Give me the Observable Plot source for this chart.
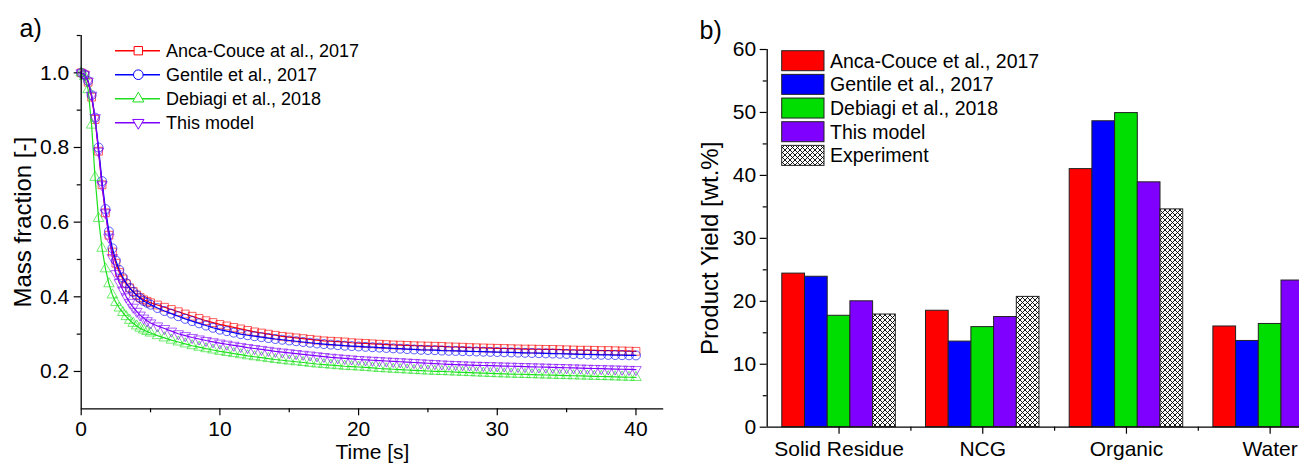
<!DOCTYPE html>
<html><head><meta charset="utf-8">
<script src="https://cdn.jsdelivr.net/npm/d3@7"></script>
<script src="https://cdn.jsdelivr.net/npm/@observablehq/plot@0.6"></script>
<style>
html,body{margin:0;padding:0;background:#fff;overflow:hidden;width:1299px;height:463px;}
#wrap{position:relative;width:1400px;height:463px;}
#wrap > svg{position:absolute;top:0;}
</style></head><body><div id="wrap"></div><script>
// ---------- Panel a data ----------
const times = [0,0.25,0.5,0.75,1,1.25,1.5,1.75,2,2.25,2.5,2.75,3,3.25,3.5,3.75,4,4.25,4.5,4.75,5,
 5.5,6,6.5,7,7.5,8,8.5,9,9.5,10,
 10.5,11,11.5,12,12.5,13,13.5,14,14.5,15,
 15.5,16,16.5,17,17.5,18,18.5,19,19.5,20,
 20.5,21,21.5,22,22.5,23,23.5,24,24.5,25,
 25.5,26,26.5,27,27.5,28,28.5,29,29.5,30,
 30.5,31,31.5,32,32.5,33,33.5,34,34.5,35,
 35.5,36,36.5,37,37.5,38,38.5,39,39.5,40];
const ancaCouce = [1.0,0.995,0.975,0.935,0.875,0.79,0.70,0.625,0.565,0.52,0.49,0.465,0.448,0.435,0.424,0.414,0.405,0.398,0.392,0.388,0.384,
 0.378,0.372,0.366,0.360,0.354,0.348,0.342,0.336,0.331,0.326,
 0.322,0.318,0.314,0.310,0.306,0.303,0.300,0.297,0.294,0.292,
 0.290,0.288,0.286,0.284,0.282,0.281,0.280,0.279,0.277,0.276,
 0.275,0.274,0.273,0.272,0.271,0.2705,0.270,0.269,0.2685,0.268,
 0.2675,0.267,0.266,0.2655,0.265,0.264,0.2635,0.263,0.2625,0.262,
 0.2615,0.261,0.2605,0.260,0.260,0.2595,0.259,0.259,0.2585,0.258,
 0.2575,0.257,0.257,0.2565,0.256,0.256,0.2555,0.255,0.2545,0.254];
const gentile = [1.0,0.995,0.978,0.94,0.88,0.80,0.71,0.635,0.575,0.53,0.497,0.472,0.452,0.436,0.423,0.413,0.404,0.396,0.389,0.384,0.379,
 0.370,0.362,0.355,0.348,0.341,0.335,0.329,0.323,0.317,0.312,
 0.308,0.304,0.300,0.297,0.2945,0.292,0.2895,0.287,0.285,0.283,
 0.281,0.279,0.277,0.275,0.2735,0.272,0.2705,0.269,0.268,0.267,
 0.266,0.265,0.264,0.263,0.262,0.261,0.260,0.259,0.258,0.2575,
 0.257,0.256,0.2555,0.255,0.2545,0.254,0.2535,0.253,0.2525,0.252,
 0.2515,0.251,0.2505,0.250,0.2495,0.249,0.2485,0.248,0.2475,0.247,
 0.2465,0.246,0.2455,0.245,0.2447,0.2444,0.244,0.2437,0.2433,0.243];
const debiagi = [1.0,0.99,0.955,0.86,0.72,0.61,0.53,0.475,0.435,0.405,0.385,0.37,0.358,0.347,0.337,0.329,0.322,0.316,0.311,0.307,0.303,
 0.296,0.290,0.284,0.279,0.274,0.269,0.265,0.261,0.2575,0.254,
 0.251,0.248,0.245,0.242,0.2395,0.237,0.2345,0.232,0.230,0.228,
 0.226,0.224,0.222,0.220,0.2185,0.217,0.2155,0.214,0.213,0.212,
 0.211,0.2095,0.208,0.207,0.206,0.205,0.204,0.203,0.202,0.2012,
 0.2005,0.200,0.1992,0.1985,0.1978,0.197,0.1962,0.1955,0.1948,0.194,
 0.1935,0.193,0.1925,0.192,0.1915,0.191,0.1905,0.190,0.1895,0.189,
 0.1885,0.188,0.1875,0.187,0.1865,0.186,0.1855,0.185,0.1845,0.184];
const thisModel = [1.0,0.995,0.978,0.94,0.88,0.79,0.70,0.625,0.56,0.505,0.462,0.438,0.418,0.40,0.385,0.372,0.361,0.351,0.343,0.336,0.33,
 0.322,0.315,0.308,0.301,0.296,0.291,0.287,0.283,0.2795,0.276,
 0.273,0.270,0.267,0.264,0.2615,0.259,0.2565,0.254,0.252,0.250,
 0.248,0.246,0.244,0.242,0.240,0.238,0.2365,0.235,0.2335,0.232,
 0.231,0.230,0.229,0.228,0.227,0.226,0.225,0.224,0.223,0.222,
 0.221,0.220,0.2192,0.2185,0.2178,0.217,0.2165,0.216,0.2155,0.215,
 0.2145,0.214,0.2135,0.213,0.2125,0.212,0.2115,0.211,0.2105,0.210,
 0.2095,0.209,0.2085,0.208,0.2075,0.207,0.2065,0.206,0.2055,0.205];
const curveNames = ["Anca-Couce at al., 2017","Gentile et al., 2017","Debiagi et al., 2018","This model"];
const xTicksA = [0,10,20,30,40];
const yTicksA = [0.2,0.4,0.6,0.8,1.0];

// ---------- Panel b data ----------
const categories = ["Solid Residue","NCG","Organic","Water"];
const barNames = ["Anca-Couce et al., 2017","Gentile et al., 2017","Debiagi et al., 2018","This model","Experiment"];
const yieldAncaCouce = [24.4,18.5,41.0,16.0];
const yieldGentile = [23.9,13.6,48.6,13.7];
const yieldDebiagi = [17.7,15.9,49.9,16.4];
const yieldThisModel = [20.0,17.5,38.9,23.3];
const yieldExperiment = [17.9,20.7,34.6,22.0];
const yTicksB = [0,10,20,30,40,50,60];

[ancaCouce,gentile,debiagi,thisModel].forEach((a,i)=>{ if(a.length!==times.length) throw new Error("length mismatch series "+i+": "+a.length+" vs "+times.length); });

const FONT = '"Liberation Sans", Arial, Helvetica, sans-serif';
const wrap = document.getElementById("wrap");

// custom downward triangle symbol
const triangleDown = { draw(ctx, size) {
  const y = -Math.sqrt(size / (Math.sqrt(3) * 3)), s3 = Math.sqrt(3);
  ctx.moveTo(0, -2 * y); ctx.lineTo(-s3 * y, y); ctx.lineTo(s3 * y, y); ctx.closePath();
}};

const curveStyles = [
  {values: ancaCouce, color: "#ff0000", symbol: "square", r: 4.4},
  {values: gentile, color: "#0000ff", symbol: "circle", r: 4.5},
  {values: debiagi, color: "#1ee01e", symbol: "triangle", r: 3.9},
  {values: thisModel, color: "#8000ff", symbol: triangleDown, r: 3.9}
];
const curveRows = curveStyles.map((c, k) => times.map((t, i) => ({t, v: c.values[i], s: curveNames[k]})));

const marksA = [
  Plot.axisX({ticks: [5,15,25,35], tickSize: 4, tickFormat: () => "", label: null, strokeWidth: 1.2}),
  Plot.axisX({ticks: xTicksA, tickSize: 7, tickPadding: 5, fontSize: 21, tickFormat: "d", label: null, strokeWidth: 1.2}),
  Plot.axisY({ticks: [0.3,0.5,0.7,0.9,1.1], tickSize: 4, tickFormat: () => "", label: null, strokeWidth: 1.2}),
  Plot.axisY({ticks: yTicksA, tickSize: 7, tickPadding: 5, fontSize: 21, tickFormat: ".1f", label: null, strokeWidth: 1.2})
];
curveStyles.forEach((c, k) => {
  marksA.push(Plot.line(curveRows[k], {x: "t", y: "v", stroke: c.color, strokeWidth: 1.2}));
  marksA.push(Plot.dot(curveRows[k], {x: "t", y: "v", symbol: c.symbol, r: c.r, stroke: c.color, fill: "none", strokeWidth: 0.9, strokeOpacity: 0.7}));
});
marksA.push(
  Plot.ruleX([0], {strokeWidth: 1.3}),
  Plot.ruleY([0.1], {strokeWidth: 1.3}),
  Plot.text(["Time [s]"], {frameAnchor: "bottom", textAnchor: "middle", lineAnchor: "top", dy: 35.5, fontSize: 21}),
  Plot.text(["Mass fraction [-]"], {frameAnchor: "left", textAnchor: "middle", rotate: -90, lineAnchor: "bottom", dx: -49.7, fontSize: 24}),
  Plot.text(["a)"], {frameAnchor: "top-left", textAnchor: "start", lineAnchor: "bottom", dx: -61.7, dy: 1.7, fontSize: 25})
);

const plotA = Plot.plot({
  width: 680, height: 463,
  marginLeft: 80.7, marginRight: 16.8, marginTop: 35, marginBottom: 54.7,
  x: {domain: [0, 42], axis: null, label: null},
  y: {domain: [0.1, 1.1], axis: null, label: null},
  style: {fontFamily: FONT, background: "transparent", color: "#000", overflow: "visible"},
  marks: marksA
});
plotA.style.left = "0px";
wrap.appendChild(plotA);

// ---------- Panel b ----------
const yieldSeries = [yieldAncaCouce, yieldGentile, yieldDebiagi, yieldThisModel, yieldExperiment];
const barFills = ["#ff0000", "#0000ff", "#00dd00", "#8000ff", "url(#xhatch)"];
const barFrac = 0.158;               // fraction of category step for one bar
const groupPad = (1 - 5 * barFrac) / 2;
const barRows = yieldSeries.map((vals, si) => categories.map((cat, ci) => ({
  cat, series: barNames[si], value: vals[ci],
  x1: ci + groupPad + si * barFrac, x2: ci + groupPad + (si + 1) * barFrac
})));

const marksB = barRows.map((rows, si) => Plot.rect(rows, {x1: "x1", x2: "x2", y1: 0, y2: "value", fill: barFills[si], stroke: "#222", strokeWidth: 1}));
marksB.push(
  Plot.axisY({ticks: [5,15,25,35,45,55], tickSize: 4, tickFormat: () => "", label: null, strokeWidth: 1.2}),
  Plot.axisY({ticks: yTicksB, tickSize: 7, tickPadding: 4, fontSize: 21, tickFormat: "d", label: null, strokeWidth: 1.2}),
  Plot.axisX({ticks: [1,2,3], tickSize: 4, tickFormat: () => "", label: null, strokeWidth: 1.2}),
  Plot.axisX({ticks: categories.map((c, i) => i + 0.5), tickSize: 7, tickPadding: 7, fontSize: 21, tickFormat: d => categories[Math.floor(d)], label: null, strokeWidth: 1.2}),
  Plot.ruleX([0], {strokeWidth: 1.3}),
  Plot.ruleY([0], {strokeWidth: 1.3}),
  Plot.text(["Product Yield [wt.%]"], {frameAnchor: "left", textAnchor: "middle", rotate: -90, lineAnchor: "bottom", dx: -49.7, dy: 10, fontSize: 24}),
  Plot.text(["b)"], {frameAnchor: "top-left", textAnchor: "start", lineAnchor: "bottom", dx: -67.7, dy: -11, fontSize: 25})
);

const plotB = Plot.plot({
  width: 680, height: 463,
  marginLeft: 86.7, marginRight: 18.5, marginTop: 49, marginBottom: 36.3,
  x: {domain: [0, 4], axis: null, label: null},
  y: {domain: [0, 60], axis: null, label: null},
  style: {fontFamily: FONT, background: "transparent", color: "#000", overflow: "visible"},
  marks: marksB
});
// cross-hatch pattern for the Experiment bars
const defs = d3.select(plotB).insert("defs", ":first-child");
const pat = defs.append("pattern").attr("id", "xhatch").attr("patternUnits", "userSpaceOnUse").attr("width", 5).attr("height", 5);
pat.append("rect").attr("width", 5).attr("height", 5).attr("fill", "#fff");
pat.append("path").attr("d", "M0,0L5,5M5,0L0,5").attr("stroke", "#000").attr("stroke-width", 0.9);
plotB.style.left = "680px";
wrap.appendChild(plotB);

// ---------- Legends (overlay) ----------
function legendSvg(left, top, w, h) {
  return d3.select(wrap).append("svg").attr("width", w).attr("height", h)
    .style("position", "absolute").style("left", left + "px").style("top", top + "px")
    .style("font-family", FONT).style("overflow", "visible");
}
// legend a
const la = legendSvg(100, 38, 320, 100);
curveStyles.forEach((c, k) => {
  const cy = 12.7 + k * 24;
  la.append("line").attr("x1", 15).attr("x2", 60).attr("y1", cy).attr("y2", cy).attr("stroke", c.color).attr("stroke-width", 1.4);
  const type = typeof c.symbol === "string" ? {square: d3.symbolSquare, circle: d3.symbolCircle, triangle: d3.symbolTriangle}[c.symbol] : c.symbol;
  la.append("path").attr("d", d3.symbol(type, Math.PI * c.r * c.r * 1.15)()).attr("transform", `translate(38.3,${cy})`)
    .attr("fill", "#fff").attr("stroke", c.color).attr("stroke-width", 1);
  la.append("text").attr("x", 66).attr("y", cy + 6.5).attr("font-size", 18).attr("fill", "#000").text(curveNames[k]);
});
// legend b
const lb = legendSvg(770, 40, 340, 140);
barNames.forEach((n, i) => {
  const top = 10.7 + i * 23.67;
  lb.append("rect").attr("x", 11.7).attr("y", top).attr("width", 42.3).attr("height", 20)
    .attr("fill", barFills[i]).attr("stroke", "#222").attr("stroke-width", 1);
  lb.append("text").attr("x", 60).attr("y", top + 17).attr("font-size", 19.5).attr("fill", "#000").text(n);
});
</script></body></html>
